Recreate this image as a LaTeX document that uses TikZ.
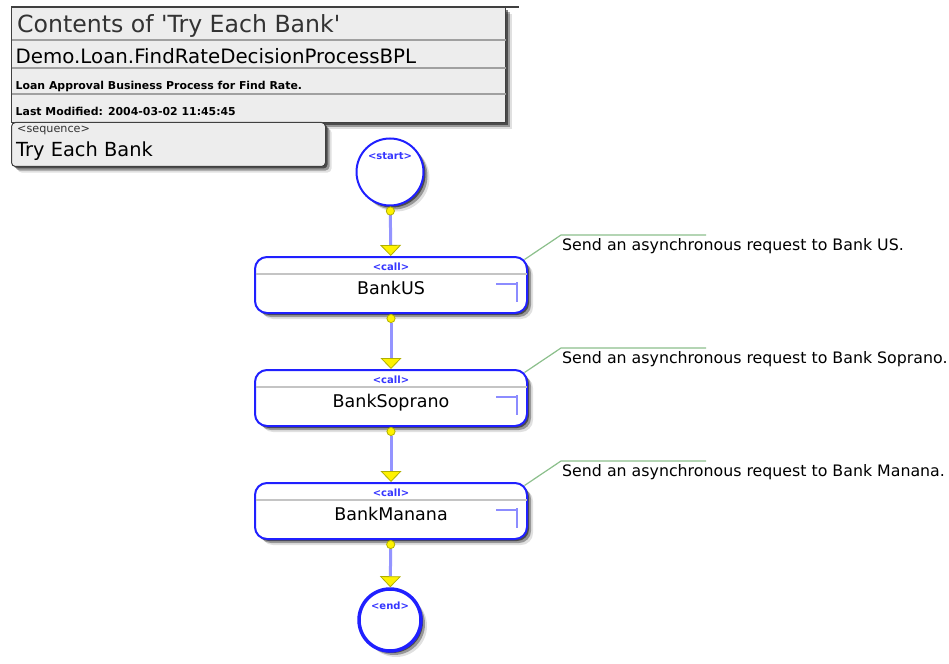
\documentclass[tikz,border=0pt]{standalone}
\usepackage{fontspec}
\setmainfont{DejaVu Sans}[Ligatures=TeXOff]
\usetikzlibrary{arrows.meta,shadows,calc}
\definecolor{hdrfill}{HTML}{EDEDED}
\definecolor{hdrline}{HTML}{A0A0A0}
\definecolor{hdrborder}{HTML}{404040}
\definecolor{titlegray}{HTML}{333333}
\definecolor{tblue}{HTML}{2020FF}
\definecolor{flowblue}{HTML}{9494FF}
\definecolor{tagblue}{HTML}{3535FF}
\definecolor{dotedge}{HTML}{B0B000}
\definecolor{notegreen}{HTML}{8CC08C}
\definecolor{sepgray}{HTML}{C4C4C4}
\definecolor{markblue}{HTML}{8C8CFF}
\begin{document}
\begin{tikzpicture}[x=1pt,y=-1pt,
  softshadow/.style={
    drop shadow={shadow xshift=2pt,shadow yshift=-2pt,opacity=.5,fill=black},
    drop shadow={shadow xshift=4pt,shadow yshift=-4pt,opacity=.32,fill=black},
    drop shadow={shadow xshift=6pt,shadow yshift=-6pt,opacity=.12,fill=black}},
  hdrbox/.style={draw=hdrborder,line width=1pt,fill=hdrfill,inner sep=0pt,
    anchor=north west,softshadow},
  seqbox/.style={hdrbox,rounded corners=4pt},
  hdrsep/.style={draw=hdrline,line width=1.5pt},
  hdrtext/.style={anchor=base west,inner sep=0pt},
  startc/.style={circle,draw=tblue,line width=2pt,fill=white,minimum size=67pt,
    inner sep=0pt,softshadow},
  endc/.style={circle,draw=tblue,line width=3.5pt,fill=white,minimum size=62pt,
    inner sep=0pt,softshadow},
  callbox/.style={rectangle,rounded corners=12pt,draw=tblue,line width=2pt,
    fill=white,minimum width=272pt,minimum height=56pt,inner sep=0pt,softshadow},
  tag/.style={anchor=base,inner sep=0pt,text=tagblue,
    font=\fontsize{10}{12}\selectfont\bfseries},
  actname/.style={anchor=base,inner sep=0pt,font=\fontsize{17.5}{20}\selectfont},
  csep/.style={draw=sepgray,line width=1.2pt},
  cmark/.style={draw=markblue,line width=1.5pt},
  flow/.style={draw=flowblue,line width=3pt,
    {Circle[length=9pt,line width=0.8pt,fill=yellow,color=dotedge]}-{Triangle[length=11pt,width=21pt,line width=0.8pt,fill=yellow,color=dotedge]}},
  noteline/.style={draw=notegreen,line width=1.2pt},
  notetext/.style={anchor=base west,inner sep=0pt,font=\fontsize{15.8}{18}\selectfont}
]
\useasboundingbox[fill=white] (0,0) rectangle (949,663);

% header
\draw[draw=hdrborder,line width=1.8pt] (11,7) -- (519,7);
\node[hdrbox,minimum width=494pt,minimum height=115pt] (hdr) at (11,7.5) {};
\draw[hdrsep] ($(hdr.north west)+(0.5,32.5)$) coordinate (s1a) -- ($(hdr.north east)+(-0.5,32.5)$) coordinate (s1b);
\draw[hdrsep] ($(hdr.north west)+(0.5,60.5)$) coordinate (s2a) -- ($(hdr.north east)+(-0.5,60.5)$) coordinate (s2b);
\draw[hdrsep] ($(hdr.north west)+(0.5,86.5)$) coordinate (s3a) -- ($(hdr.north east)+(-0.5,86.5)$) coordinate (s3b);
\node[hdrtext,text=titlegray,font=\fontsize{23.6}{26}\selectfont] (title) at (17,33) {Contents of 'Try Each Bank'};
\node[hdrtext,font=\fontsize{19.8}{22}\selectfont] (bpl) at (15.5,64) {Demo.Loan.FindRateDecisionProcessBPL};
\node[hdrtext,font=\fontsize{10.9}{12}\selectfont\bfseries] (desc) at (15.5,90) {Loan Approval Business Process for Find Rate.};
\node[hdrtext,font=\fontsize{10.9}{12}\selectfont\bfseries] (mod) at (15.5,116) {Last Modified: 2004-03-02 11:45:45};

% sequence box
\node[seqbox,minimum width=314pt,minimum height=44pt] (seq) at (11,122) {};
\node[hdrtext,text=titlegray,font=\fontsize{11.2}{12}\selectfont] (seqtag) at (17,133) {<sequence>};
\node[hdrtext,font=\fontsize{19.4}{22}\selectfont] (seqname) at (16,157) {Try Each Bank};

% start / end
\node[startc] (start) at (390,172) {};
\node[tag] (starttag) at (390,160) {<start>};

\node[endc] (end) at (390,620) {};
\node[tag] (endtag) at (390,609) {<end>};

% call boxes
\foreach \n/\y/\name in {c1/285/BankUS,c2/398/BankSoprano,c3/511/BankManana}{
  \node[callbox] (\n) at (391,\y) {};
  \draw[csep] ($(\n.north west)+(1.5,18)$) -- ($(\n.north east)+(-1.5,18)$);
  \node[tag] (\n tag) at ($(\n.north)+(0,14)$) {<call>};
  \node[actname] (\n name) at ($(\n.center)+(0,9)$) {\name};
  \draw[cmark] ($(\n.east)+(-32,-1)$) -- ($(\n.east)+(-11,-1)$);
  \draw[cmark] ($(\n.east)+(-11,-3)$) -- ($(\n.east)+(-11,17)$);
}

% connectors
\draw[flow] (start) -- (c1);
\draw[flow] (c1) -- (c2);
\draw[flow] (c2) -- (c3);
\draw[flow] (c3) -- (end);

% notes
\foreach \n/\txt in {c1/Send an asynchronous request to Bank US.,
                     c2/Send an asynchronous request to Bank Soprano.,
                     c3/Send an asynchronous request to Bank Manana.}{
  \coordinate (\n k) at ($(\n.north east)+(-3.5,3.5)$);
  \coordinate (\n j) at ($(\n.north east)+(33,-21)$);
  \coordinate (\n e) at ($(\n.north east)+(178,-21)$);
  \node[notetext] (\n note) at ($(\n.north east)+(34,-6)$) {\txt};
  \draw[noteline] (\n k) -- (\n j) -- (\n e);
}
\end{tikzpicture}
\end{document}
